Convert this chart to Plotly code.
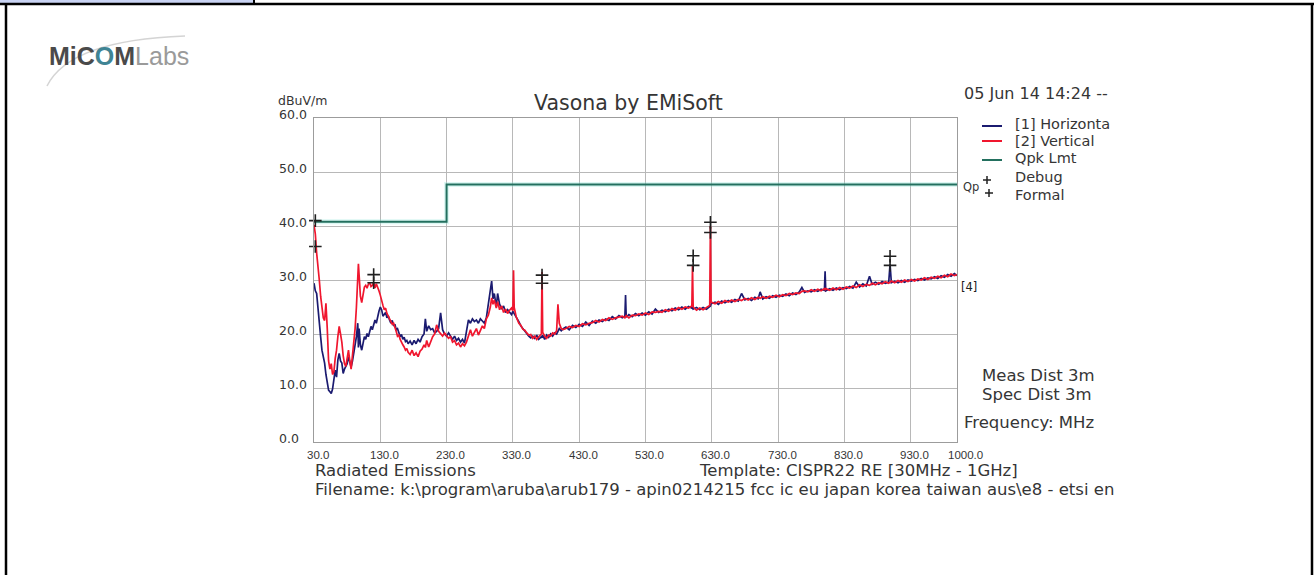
import plotly.graph_objects as go

# ---------------- measurement data ----------------
FREQ_MHZ = [
    30, 32, 34, 36, 38, 40, 42, 44, 46, 48,
    50, 52, 54, 56, 58, 60, 62, 64, 66, 68,
    70, 72, 74, 76, 78, 80, 82, 84, 86, 88,
    90, 92, 94, 96, 97, 98, 100, 102, 104, 106,
    108, 110, 112, 114, 116, 118, 120, 122, 124, 126,
    128, 130, 132, 134, 136, 138, 140, 142, 144, 146,
    148, 150, 152, 154, 156, 158, 160, 162, 164, 166,
    168, 170, 172, 175, 178, 181, 184, 187, 190, 193,
    196, 198, 200, 203, 206, 209, 212, 215, 218, 221,
    224, 227, 230, 233, 236, 239, 242, 245, 248, 251,
    254, 257, 260, 263, 266, 269, 272, 275, 278, 281,
    284, 287, 290, 293, 296, 298, 300, 302, 305, 307,
    310, 313, 316, 319, 322, 325, 328, 330, 331, 332,
    335, 339, 342, 345, 348, 351, 354, 357, 360, 363,
    366, 369, 373, 374, 375, 378, 381, 384, 387, 390,
    393, 396, 398, 400, 403, 406, 410, 415, 420, 425,
    430, 435, 440, 445, 450, 455, 460, 465, 470, 475,
    480, 485, 490, 495, 499, 500, 501, 505, 510, 515,
    520, 525, 530, 535, 540, 545, 550, 555, 560, 565,
    570, 575, 580, 585, 590, 595, 600, 601, 602, 607,
    612, 617, 622, 627, 628, 629, 635, 640, 645, 650,
    655, 660, 665, 670, 675, 680, 685, 690, 695, 700,
    703, 707, 712, 717, 722, 727, 732, 737, 742, 747,
    752, 757, 762, 766, 770, 775, 780, 785, 790, 795,
    800, 801, 802, 808, 813, 818, 823, 828, 833, 838,
    843, 848, 853, 858, 863, 868, 872, 877, 882, 887,
    892, 897, 899, 901, 906, 911, 916, 921, 926, 931,
    936, 941, 946, 951, 956, 961, 966, 971, 976, 981,
    986, 991, 996, 1000,
]

HORIZONTAL_DBUV = [
    29.4, 28.0, 27.5, 24.4, 21.0, 19.5, 17.0, 15.8, 14.6, 12.5,
    10.8, 9.6, 9.3, 9.0, 9.8, 11.5, 13.3, 12.0, 15.2, 16.4,
    15.0, 14.6, 12.7, 13.5, 13.9, 14.5, 15.8, 14.5, 13.9, 15.0,
    16.4, 18.0, 19.5, 22.0, 17.5, 21.0, 18.0, 17.0, 18.5, 19.5,
    19.0, 20.1, 19.5, 20.5, 21.4, 20.8, 21.5, 22.6, 22.0, 23.5,
    24.2, 25.0, 24.5, 23.3, 23.8, 24.0, 23.0, 23.4, 22.6, 22.0,
    22.5, 21.5, 21.8, 20.8, 21.0, 20.2, 19.5, 19.9, 19.0, 19.4,
    18.6, 18.8, 18.2, 18.7, 18.0, 18.8, 18.2, 19.0, 18.5, 19.5,
    20.0, 22.8, 20.5, 21.5, 20.8, 21.0, 20.2, 20.5, 21.0, 23.9,
    20.8, 20.0, 19.6, 20.2, 19.5, 19.0, 19.6, 18.8, 19.2, 18.5,
    19.0, 18.3, 20.5, 22.6, 22.0, 22.8, 22.3, 22.6, 22.0, 22.8,
    22.4, 22.0, 23.0, 25.5, 28.0, 29.8, 26.5, 27.5, 25.0, 27.5,
    25.5, 24.6, 25.2, 24.0, 24.5, 24.0, 23.6, 24.2, 24.0, 23.8,
    23.2, 22.3, 21.5, 21.0, 20.6, 20.0, 19.6, 19.3, 19.6, 19.2,
    19.8, 19.0, 19.5, 19.3, 19.8, 19.0, 19.8, 19.4, 20.0, 19.6,
    20.2, 20.0, 20.4, 21.0, 20.6, 21.0, 21.3, 20.8, 21.6, 21.2,
    21.8, 21.4, 22.2, 21.6, 22.4, 22.0, 22.6, 22.3, 22.8, 22.5,
    23.2, 22.8, 23.4, 23.0, 23.3, 27.2, 23.1, 23.6, 23.2, 23.8,
    23.4, 23.9, 23.5, 24.1, 23.7, 24.6, 24.0, 24.4, 24.1, 24.6,
    24.3, 24.8, 24.5, 25.0, 24.6, 25.1, 24.8, 25.0, 24.6, 24.9,
    24.5, 24.9, 24.6, 25.0, 25.2, 25.6, 25.9, 25.5, 26.1, 25.8,
    26.2, 25.9, 26.4, 26.1, 27.5, 26.3, 26.6, 26.2, 26.8, 26.5,
    27.8, 26.5, 26.9, 26.6, 27.1, 26.8, 27.2, 27.0, 27.4, 27.1,
    27.6, 27.3, 27.8, 28.6, 27.7, 28.0, 27.8, 28.2, 27.9, 28.3,
    28.1, 31.6, 28.0, 28.4, 28.1, 28.5, 28.2, 28.6, 28.4, 28.8,
    28.5, 29.6, 28.7, 29.3, 28.9, 30.7, 29.2, 29.6, 29.2, 29.7,
    29.4, 29.6, 32.9, 29.5, 29.8, 29.5, 29.9, 29.6, 30.0, 29.8,
    30.1, 29.9, 30.3, 30.0, 30.4, 30.2, 30.6, 30.3, 30.8, 30.5,
    31.0, 30.7, 31.2, 30.8,
]

VERTICAL_DBUV = [
    40.2, 38.5, 35.0, 33.0, 30.0, 27.0, 24.5, 23.0, 22.5, 25.7,
    21.0, 15.0, 13.5, 14.5, 12.5, 13.0, 15.5, 17.0, 19.5, 21.4,
    20.0, 18.5, 16.0, 14.5, 14.0, 15.5, 17.0, 15.0, 13.5, 16.0,
    18.0, 21.0, 25.0, 30.5, 33.0, 31.0, 27.0, 25.8, 27.5, 28.7,
    29.0, 28.5, 29.2, 29.5, 28.8, 29.0, 29.6, 28.5, 29.3, 28.8,
    28.0, 27.2, 26.0, 25.3, 24.5, 24.8, 23.8, 23.3, 23.0, 22.4,
    21.8, 22.0, 21.0, 20.5, 19.6, 19.8, 19.0, 18.4, 18.0, 17.6,
    17.0, 17.3, 16.6, 16.2, 17.0, 16.0, 16.5, 15.8, 16.8, 17.2,
    18.0, 17.5, 18.8, 17.6, 18.5, 19.5, 20.0, 21.7, 20.5, 20.0,
    19.6, 20.2, 19.8, 19.2, 19.5, 18.5, 18.8, 18.0, 18.3, 17.6,
    18.2, 17.8, 18.5, 19.5, 20.8, 19.6, 20.3, 21.0, 19.8, 20.6,
    21.5, 21.0, 22.8, 23.5, 25.0, 26.7, 25.5, 26.3, 24.8, 26.0,
    24.5, 25.2, 24.0, 24.6, 23.8, 24.4, 24.8, 24.3, 31.8, 24.9,
    23.2, 22.0, 21.6, 20.9, 20.7, 20.2, 19.8, 19.9, 19.2, 19.6,
    19.0, 19.5, 20.0, 31.5, 20.3, 19.6, 19.2, 19.8, 19.6, 20.2,
    20.0, 20.6, 25.5, 22.0, 21.0, 20.8, 21.0, 21.4, 21.2, 21.6,
    21.4, 21.9, 21.7, 22.0, 22.1, 22.5, 22.2, 22.7, 22.5, 23.0,
    22.7, 23.0, 23.1, 23.3, 23.0, 23.2, 23.4, 23.0, 23.5, 23.4,
    23.7, 23.5, 23.9, 23.6, 24.1, 24.0, 24.2, 24.0, 24.5, 24.2,
    24.7, 24.4, 24.9, 24.6, 25.0, 24.8, 25.2, 32.6, 25.0, 24.4,
    24.8, 24.5, 24.9, 25.3, 40.0, 25.9, 25.6, 26.0, 25.7, 26.2,
    25.9, 26.3, 26.0, 26.4, 26.2, 26.6, 26.3, 26.7, 26.4, 26.8,
    26.6, 26.9, 26.6, 27.0, 26.8, 27.2, 26.9, 27.3, 27.1, 27.5,
    27.3, 27.6, 27.5, 27.9, 28.0, 27.8, 28.2, 27.9, 28.3, 28.0,
    28.4, 28.2, 28.4, 28.1, 28.5, 28.2, 28.6, 28.3, 28.7, 28.5,
    28.9, 28.6, 29.1, 28.8, 29.2, 29.0, 29.4, 29.1, 29.5, 29.3,
    29.7, 29.4, 29.6, 29.8, 29.5, 29.9, 29.6, 30.0, 29.7, 30.1,
    29.8, 30.2, 30.0, 30.4, 30.1, 30.5, 30.3, 30.7, 30.4, 30.9,
    30.6, 31.1, 30.8, 31.0,
]

# quasi-peak limit (CISPR22 class B, 3 m)
LIMIT_FREQ = [30, 230, 230, 1000]
LIMIT_DBUV = [40.8, 40.8, 47.7, 47.7]

# peak-search markers
PEAK_FREQ = [32, 120, 374, 602, 628, 899]
FORMAL_DBUV = [41.0, 31.0, 30.9, 34.5, 40.7, 34.4]
DEBUG_DBUV = [36.2, 29.5, 29.4, 32.7, 38.8, 32.7]

X_TICKS = [30, 130, 230, 330, 430, 530, 630, 730, 830, 930, 1000]
X_LABELS = ["30.0", "130.0", "230.0", "330.0", "430.0", "530.0",
            "630.0", "730.0", "830.0", "930.0", "1000.0"]
Y_TICKS = [0, 10, 20, 30, 40, 50, 60]
Y_LABELS = ["0.0", "10.0", "20.0", "30.0", "40.0", "50.0", "60.0"]

assert len(FREQ_MHZ) == len(HORIZONTAL_DBUV) == len(VERTICAL_DBUV)

# ---------------- page geometry (pixels) ----------------
W_PAGE, H_PAGE = 1314, 575
PL, PR, PT, PB = 314, 957, 118, 442   # plot rectangle


def px(x):
    return (x - PL) / (PR - PL)


def py(y):
    return (PB - y) / (PB - PT)


FONT = "DejaVu Sans, Liberation Sans, Arial, sans-serif"
TICK_FONT = "Liberation Sans, Arial, sans-serif"
TXT = "#353535"

NAVY = "#1b1b70"
RED = "#f0162e"
TEAL = "#23705f"

fig = go.Figure()

# limit line with its light halo
fig.add_trace(go.Scatter(x=LIMIT_FREQ, y=LIMIT_DBUV, mode="lines",
                         line=dict(color="rgba(140,228,215,0.3)", width=5),
                         hoverinfo="skip", showlegend=False))
fig.add_trace(go.Scatter(x=LIMIT_FREQ, y=LIMIT_DBUV, mode="lines",
                         line=dict(color=TEAL, width=2), name="Qpk Lmt",
                         showlegend=False))
fig.add_trace(go.Scatter(x=FREQ_MHZ, y=HORIZONTAL_DBUV, mode="lines",
                         line=dict(color=NAVY, width=1.7), name="[1] Horizontal",
                         showlegend=False))
fig.add_trace(go.Scatter(x=FREQ_MHZ, y=VERTICAL_DBUV, mode="lines",
                         line=dict(color=RED, width=1.7), name="[2] Vertical",
                         showlegend=False))
for lev, nm in ((FORMAL_DBUV, "Formal"), (DEBUG_DBUV, "Debug")):
    fig.add_trace(go.Scatter(x=PEAK_FREQ, y=lev, mode="markers", name=nm,
                             marker=dict(symbol="cross-thin", size=9,
                                         line=dict(color="#202020", width=1.6)),
                             cliponaxis=False, showlegend=False))

annotations = []


def note(text, x, y, size, xanchor="left", color=TXT, family=FONT):
    annotations.append(dict(text=text, x=px(x), y=py(y), xref="paper", yref="paper",
                            xanchor=xanchor, yanchor="middle", showarrow=False,
                            font=dict(family=family, size=size, color=color)))


# axis tick labels placed on the axes' own scales
for v, lab in zip(Y_TICKS, Y_LABELS):
    annotations.append(dict(text=lab, x=px(277), y=v, xref="paper", yref="y",
                            xanchor="left", yanchor="middle", yshift=4, showarrow=False,
                            font=dict(family=FONT, size=12.5, color=TXT)))
for f, lab in zip(X_TICKS, X_LABELS):
    annotations.append(dict(text=lab, x=f, y=py(455), xref="x", yref="paper",
                            xanchor="center", yanchor="middle",
                            xshift=8 if f == 1000 else 4, showarrow=False,
                            font=dict(family=TICK_FONT, size=11.5, color=TXT)))

note("dBuV/m", 276, 100, 12.5)
note("Vasona by EMiSoft", 628, 103, 20.5, xanchor="center")
note("05 Jun 14 14:24 --", 962, 93, 16)

# legend block
note("[1] Horizonta", 1013, 124, 14.5)
note("[2] Vertical", 1013, 141, 14.5)
note("Qpk Lmt", 1013, 158, 14.5)
note("Debug", 1013, 177, 14.5)
note("Formal", 1013, 195, 14.5)
note("Qp", 961, 187, 11.5)
note("[4]", 959, 287, 11.5, color="#202020")

note("Meas Dist 3m", 980, 375, 16.5)
note("Spec Dist 3m", 980, 394, 16.5)
note("Frequency: MHz", 962, 422, 16.5)

note("Radiated Emissions", 313, 470, 16.5)
note("Template: CISPR22 RE [30MHz - 1GHz]", 697, 470, 16.5)
note("Filename: k:\\program\\aruba\\arub179 - apin0214215 fcc ic eu japan korea taiwan aus\\e8 - etsi en",
     313, 489, 16.5)

# logo
annotations.append(dict(
    text="<b>MiC</b><b><span style='color:#3f8494'>O</span></b><b>M</b>"
         "<span style='color:#9a9a9a'>Labs</span>",
    x=px(47), y=py(56), xref="paper", yref="paper", xanchor="left", yanchor="middle",
    showarrow=False, font=dict(family="Liberation Sans, Arial, sans-serif",
                               size=25, color="#4a4a4a")))

shapes = []


def seg(x0, y0, x1, y1, color, width):
    shapes.append(dict(type="line", xref="paper", yref="paper",
                       x0=px(x0), y0=py(y0), x1=px(x1), y1=py(y1),
                       line=dict(color=color, width=width)))


# legend swatches
seg(982, 126, 1002, 126, NAVY, 2)
seg(982, 141, 1002, 141, RED, 2)
seg(982, 160, 1002, 160, TEAL, 2)
for cx, cy in ((987, 180), (989, 193)):
    seg(cx - 4, cy, cx + 4, cy, "#202020", 1.5)
    seg(cx, cy - 4, cx, cy + 4, "#202020", 1.5)

# logo swoosh
shapes.append(dict(type="path", xref="paper", yref="paper",
                   path="M {} {} Q {} {} {} {}".format(px(47), py(86), px(70), py(40),
                                                       px(185), py(36)),
                   line=dict(color="rgba(170,170,170,0.5)", width=1.5)))

# page frame
shapes.append(dict(type="rect", xref="paper", yref="paper",
                   x0=px(0), y0=py(0), x1=px(253), y1=py(4),
                   fillcolor="#c9d3f3", line=dict(width=0)))
seg(0, 4, 1314, 4, "#000000", 2.5)
seg(254, 0, 254, 4, "#000000", 2)
seg(6, 4, 6, 575, "#000000", 2.5)
seg(1312, 4, 1312, 575, "#000000", 2.5)

axis_common = dict(showline=True, mirror=True, linecolor="#9c9c9c", linewidth=1,
                   showgrid=True, gridcolor="#b8b8b8", gridwidth=1,
                   zeroline=False, ticks="", showticklabels=False, fixedrange=True)

fig.update_layout(
    width=W_PAGE, height=H_PAGE,
    margin=dict(l=PL, r=W_PAGE - PR, t=PT, b=H_PAGE - PB, pad=0),
    paper_bgcolor="white", plot_bgcolor="white",
    showlegend=False,
    xaxis=dict(range=[30, 1000], tickvals=X_TICKS, **axis_common),
    yaxis=dict(range=[0, 60], tickvals=Y_TICKS, **axis_common),
    annotations=annotations,
    shapes=shapes,
    hovermode=False,
)

fig.write_html("out.html", config={"displayModeBar": False})
